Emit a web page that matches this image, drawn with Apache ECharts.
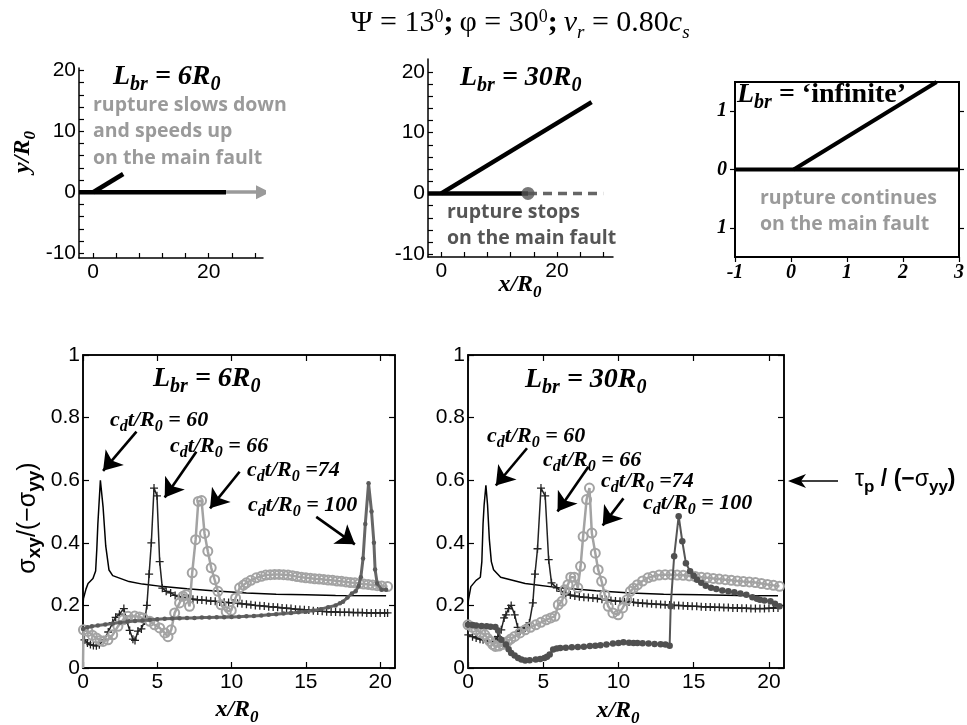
<!DOCTYPE html>
<html><head><meta charset="utf-8">
<script src="https://cdn.jsdelivr.net/npm/echarts@6/dist/echarts.min.js"></script>
<style>html,body{margin:0;padding:0;background:#fff}#c{width:967px;height:725px}</style>
</head><body><div id="c"></div>
<script>
// ---------- tick values ----------
const topXTicks = [0, 4, 8, 12, 16, 20, 24, 28];
const topXLabels = [0, 20];
const topYTicks = [-10, -8, -6, -4, -2, 0, 2, 4, 6, 8, 10, 12, 14, 16, 18, 20];
const topYLabels = [-10, 0, 10, 20];
const infXTicks = [-1, 0, 1, 2, 3];
const infYTicks = [-1, 0, 1];
const botXTicks = [0, 5, 10, 15, 20];
const botYTicks = [0, 0.2, 0.4, 0.6, 0.8, 1];

// ---------- fault geometry (x/R0, y/R0) ----------
const tlMainFault = [[-2.45, 0], [23, 0]];
const tlBranch = [[0, 0], [5.2, 3]];
const tlContinue = [[23, 0], [29.4, 0]];
const tmMainFault = [[-2.3, 0], [15, 0]];
const tmBranch = [[0, 0], [26, 15]];
const tmStopped = [[15, 0], [28, 0]];
const tmStopPoint = [[15, 0]];
const trMainFault = [[-1, 0], [3, 0]];
const trBranch = [[0.05, 0], [2.6, 1.5]];

// ---------- stress ratio, L_br = 6 R0 ----------
const l6_t60 = [[0,0.2],[0.03,0.222],[0.2,0.252],[0.34,0.27],[0.67,0.286],[0.85,0.31],[0.93,0.38],[1.0,0.46],[1.17,0.6],[1.35,0.515],[1.53,0.39],[1.75,0.313],[2.0,0.295],[3.1,0.276],[4,0.268],[5.4,0.26],[7,0.253],[8.7,0.247],[11,0.24],[13,0.236],[15,0.234],[17,0.232],[20.4,0.231]];
const l6_t66 = [[0.1,0.09],[0.3,0.08],[0.5,0.075],[0.7,0.072],[0.9,0.071],[1.1,0.074],[1.4,0.09],[1.7,0.115],[2.0,0.145],[2.2,0.162],[2.45,0.172],[2.75,0.19],[2.92,0.155],[3.14,0.12],[3.36,0.092],[3.5,0.088],[3.7,0.118],[3.93,0.125],[4.15,0.15],[4.3,0.2],[4.45,0.3],[4.6,0.4],[4.78,0.575],[4.98,0.55],[5.16,0.34],[5.34,0.255],[5.6,0.245],[5.9,0.24],[6.2,0.232],[6.5,0.228],[6.8,0.225],[7.1,0.222],[7.4,0.22],[7.7,0.218],[8.0,0.217],[8.3,0.216],[8.6,0.214],[8.9,0.213],[9.2,0.211],[9.5,0.21],[9.8,0.209],[10.1,0.208],[10.4,0.207],[10.7,0.205],[11.0,0.204],[11.3,0.202],[11.6,0.2],[11.9,0.199],[12.2,0.198],[12.5,0.196],[12.8,0.195],[13.1,0.194],[13.4,0.192],[13.7,0.191],[14.0,0.19],[14.3,0.188],[14.6,0.187],[14.9,0.186],[15.2,0.185],[15.5,0.183],[15.8,0.182],[16.1,0.181],[16.4,0.18],[16.7,0.179],[17.0,0.179],[17.3,0.178],[17.6,0.178],[17.9,0.178],[18.2,0.177],[18.5,0.177],[18.8,0.177],[19.1,0.176],[19.4,0.176],[19.7,0.176],[20.0,0.176],[20.3,0.176],[20.5,0.176]];
const l6_t74 = [[0,0],[0.03,0.122],[0.34,0.117],[0.62,0.105],[0.9,0.096],[1.15,0.088],[1.35,0.085],[1.68,0.09],[2.0,0.106],[2.35,0.133],[2.7,0.154],[3.03,0.165],[3.48,0.166],[3.8,0.163],[4.04,0.16],[4.5,0.149],[4.82,0.138],[5.16,0.128],[5.5,0.112],[5.72,0.1],[5.94,0.122],[6.17,0.176],[6.5,0.208],[6.73,0.229],[6.95,0.234],[7.17,0.197],[7.35,0.304],[7.58,0.41],[7.76,0.532],[7.98,0.535],[8.18,0.43],[8.4,0.373],[8.63,0.32],[8.86,0.282],[9.08,0.245],[9.3,0.202],[9.64,0.18],[9.98,0.184],[10.27,0.224],[10.54,0.256],[10.8,0.265],[11,0.272],[11.3,0.28],[11.66,0.288],[12.0,0.293],[12.3,0.297],[12.6,0.298],[12.9,0.299],[13.2,0.299],[13.5,0.298],[13.8,0.297],[14.1,0.295],[14.4,0.292],[14.7,0.29],[15.0,0.288],[15.3,0.287],[15.6,0.285],[15.9,0.284],[16.2,0.283],[16.5,0.281],[16.8,0.28],[17.1,0.278],[17.4,0.277],[17.7,0.275],[18.0,0.273],[18.3,0.272],[18.6,0.27],[18.9,0.268],[19.2,0.267],[19.5,0.265],[19.8,0.263],[20.1,0.262],[20.5,0.26]];
const l6_t100 = [[0,0.125],[0.3,0.13],[0.6,0.133],[1,0.136],[1.5,0.139],[2,0.142],[2.5,0.145],[3,0.148],[3.5,0.15],[4,0.152],[4.5,0.154],[5,0.156],[5.5,0.157],[6,0.158],[6.5,0.159],[7,0.16],[7.5,0.16],[8,0.161],[8.5,0.161],[9,0.162],[9.5,0.162],[10,0.163],[10.5,0.164],[11,0.165],[11.5,0.166],[12,0.168],[12.5,0.17],[13,0.172],[13.5,0.174],[14,0.176],[14.5,0.178],[15,0.18],[15.5,0.184],[16,0.188],[16.5,0.194],[17,0.2],[17.3,0.207],[17.5,0.212],[17.8,0.225],[18.1,0.238],[18.35,0.245],[18.55,0.262],[18.7,0.29],[18.85,0.35],[19.0,0.46],[19.22,0.59],[19.42,0.5],[19.58,0.4],[19.66,0.315],[19.8,0.27],[20.1,0.25],[20.4,0.25]];

// ---------- stress ratio, L_br = 30 R0 ----------
const l30_t60 = [[0,0.2],[0.03,0.218],[0.19,0.26],[0.54,0.28],[0.82,0.29],[0.92,0.34],[1.0,0.46],[1.07,0.52],[1.19,0.584],[1.3,0.52],[1.42,0.41],[1.55,0.34],[1.7,0.314],[2.17,0.29],[3.8,0.27],[6.1,0.256],[8.5,0.247],[10.8,0.24],[13,0.236],[15.45,0.234],[18,0.232],[20.6,0.231]];
const l30_t66 = [[0,0],[0.02,0.106],[0.3,0.1],[0.54,0.096],[0.8,0.092],[1.0,0.09],[1.3,0.087],[1.59,0.085],[1.8,0.09],[1.98,0.1],[2.21,0.122],[2.4,0.16],[2.52,0.17],[2.7,0.19],[2.87,0.2],[3.1,0.17],[3.3,0.13],[3.45,0.117],[3.65,0.122],[3.8,0.128],[4.08,0.144],[4.31,0.208],[4.45,0.3],[4.62,0.381],[4.85,0.575],[5.13,0.55],[5.36,0.346],[5.55,0.272],[5.9,0.256],[6.2,0.245],[6.5,0.238],[6.8,0.233],[7.1,0.23],[7.4,0.228],[7.7,0.226],[8.0,0.225],[8.3,0.224],[8.6,0.222],[8.9,0.22],[9.2,0.218],[9.5,0.216],[9.8,0.214],[10.1,0.213],[10.4,0.212],[10.7,0.211],[11.0,0.21],[11.3,0.208],[11.6,0.207],[11.9,0.206],[12.2,0.205],[12.5,0.204],[12.8,0.203],[13.1,0.202],[13.4,0.201],[13.7,0.2],[14.0,0.2],[14.3,0.199],[14.6,0.198],[14.9,0.197],[15.2,0.197],[15.5,0.196],[15.8,0.195],[16.1,0.195],[16.4,0.194],[16.7,0.194],[17.0,0.193],[17.3,0.193],[17.6,0.192],[17.9,0.192],[18.2,0.191],[18.5,0.191],[18.8,0.19],[19.1,0.19],[19.4,0.19],[19.7,0.19],[20.0,0.191],[20.3,0.192],[20.6,0.192]];
const l30_t74 = [[0,0.138],[0.3,0.13],[0.54,0.122],[0.85,0.113],[1.12,0.106],[1.3,0.095],[1.47,0.085],[1.65,0.075],[1.82,0.069],[2.05,0.07],[2.28,0.075],[2.45,0.08],[2.63,0.085],[2.85,0.093],[3.1,0.101],[3.45,0.112],[3.8,0.122],[4.15,0.13],[4.5,0.138],[4.85,0.146],[5.2,0.154],[5.5,0.16],[5.78,0.165],[6.0,0.202],[6.25,0.213],[6.43,0.25],[6.64,0.266],[6.83,0.29],[7.06,0.29],[7.3,0.256],[7.48,0.325],[7.65,0.42],[7.88,0.538],[8.07,0.575],[8.23,0.431],[8.46,0.367],[8.65,0.314],[8.88,0.277],[9.09,0.234],[9.32,0.197],[9.63,0.176],[9.98,0.17],[10.28,0.192],[10.56,0.218],[10.79,0.245],[11.0,0.255],[11.26,0.266],[11.6,0.278],[11.96,0.288],[12.3,0.293],[12.7,0.297],[13.1,0.298],[13.5,0.298],[13.9,0.297],[14.3,0.296],[14.7,0.294],[15.1,0.292],[15.5,0.29],[15.9,0.288],[16.3,0.286],[16.7,0.284],[17.1,0.282],[17.5,0.28],[17.9,0.278],[18.3,0.276],[18.7,0.275],[19.1,0.273],[19.5,0.27],[19.9,0.267],[20.3,0.264],[20.7,0.261]];
const l30_t100 = [[0,0.138],[0.3,0.137],[0.54,0.136],[0.9,0.134],[1.24,0.133],[1.5,0.132],[1.82,0.131],[2.0,0.12],[2.21,0.09],[2.52,0.075],[2.7,0.06],[2.87,0.048],[3.1,0.04],[3.33,0.032],[3.55,0.027],[3.8,0.024],[4.1,0.025],[4.5,0.027],[4.8,0.029],[5.08,0.032],[5.25,0.036],[5.43,0.043],[5.66,0.059],[5.9,0.062],[6.13,0.064],[6.5,0.065],[6.9,0.066],[7.3,0.067],[7.7,0.068],[8.1,0.07],[8.46,0.071],[8.8,0.073],[9.2,0.075],[9.63,0.078],[10.0,0.08],[10.33,0.082],[10.7,0.081],[11.0,0.08],[11.26,0.08],[11.6,0.079],[12.0,0.078],[12.4,0.077],[12.8,0.076],[13.12,0.075],[13.4,0.071],[13.47,0.197],[13.7,0.357],[14.0,0.485],[14.24,0.405],[14.48,0.335],[14.76,0.309],[15.0,0.295],[15.22,0.282],[15.5,0.272],[15.8,0.263],[16.15,0.256],[16.5,0.252],[16.9,0.248],[17.3,0.245],[17.7,0.242],[18.1,0.238],[18.5,0.234],[18.9,0.226],[19.2,0.221],[19.4,0.218],[19.7,0.216],[20.1,0.213],[20.4,0.205],[20.7,0.197]];

// ---------- annotation arrows (tail -> head, data units) ----------
const l6_arrows = [[[3.6,0.755],[1.35,0.63]], [[7.63,0.691],[5.5,0.545]], [[10.54,0.627],[8.55,0.51]], [[15.7,0.483],[18.3,0.395]]];
const l30_arrows = [[[3.92,0.702],[1.85,0.583]], [[8.0,0.643],[5.95,0.5]], [[10.33,0.542],[8.95,0.455]]];

const serif = "'Liberation Serif','DejaVu Serif',serif";
const sans = "'Liberation Sans','DejaVu Sans',sans-serif";
const myriad = "'Open Sans','Noto Sans',sans-serif";
const plusPath = 'path://M4.2,0H5.8V4.2H10V5.8H5.8V10H4.2V5.8H0V4.2H4.2Z';
const TICK_FONT = 21;

function tk(size, o) {
  return Object.assign({fontFamily: serif, fontSize: size, fontWeight: 'bold', fontStyle: 'italic',
    fill: '#000', color: '#000', verticalAlign: 'bottom'}, o || {});
}
function mainTok(size, pb, o) { return tk(size, Object.assign({padding: [0, 0, pb, 0]}, o || {})); }

const richLbr = {m: mainTok(28, 4), s: tk(20), u: mainTok(28, 4, {fontStyle: 'normal'})};
const richCd = {m: mainTok(22, 3), s: tk(16)};
const richAx = {m: mainTok(24, 4), s: tk(17)};

function txt(x, y, text, rich, align) {
  return {type: 'text', x: x, y: y, z: 100, silent: true,
    style: {text: text, rich: rich, align: align || 'left', verticalAlign: 'middle'}};
}
function plain(x, y, text, color) {
  return {type: 'text', x: x, y: y, z: 100, silent: true,
    style: {text: text, fill: color, fontFamily: myriad, fontWeight: 'bold', fontSize: 19.5,
      lineHeight: 26.5, align: 'left', verticalAlign: 'top'}};
}

const axLine = {show: true, onZero: false, lineStyle: {color: '#000', width: 1.5}};
function xAx(gi, min, max, ticks, labels, o) {
  return Object.assign({type: 'value', gridIndex: gi, min: min, max: max, splitLine: {show: false},
    axisLine: axLine,
    axisTick: {show: true, inside: true, length: 5, customValues: ticks, lineStyle: {color: '#000', width: 1.2}},
    axisLabel: {show: true, customValues: labels, color: '#000', fontFamily: sans, fontSize: TICK_FONT, margin: 4}}, o || {});
}
function yAx(gi, min, max, ticks, labels, o) {
  return Object.assign({type: 'value', gridIndex: gi, min: min, max: max, splitLine: {show: false},
    axisLine: axLine,
    axisTick: {show: true, inside: true, length: 5, customValues: ticks, lineStyle: {color: '#000', width: 1.2}},
    axisLabel: {show: true, customValues: labels, color: '#000', fontFamily: sans, fontSize: TICK_FONT, margin: 3}}, o || {});
}
const infLabel = {show: true, customValues: infXTicks, color: '#000', fontFamily: serif, fontWeight: 'bold',
  fontStyle: 'italic', fontSize: 20, margin: 6};
const outTick = (vals) => ({show: true, inside: false, length: 5, customValues: vals, lineStyle: {color: '#000', width: 1.2}});
const inTick = (vals) => ({show: true, inside: true, length: 6, customValues: vals, lineStyle: {color: '#000', width: 1.2}});

const xAxis = [
  xAx(0, -2.45, 29.4, topXTicks, topXLabels),
  xAx(1, -2.3, 29.7, topXTicks, topXLabels),
  xAx(2, -1, 3, infXTicks, infXTicks, {axisTick: outTick(infXTicks), axisLabel: infLabel}),
  xAx(3, 0, 21, botXTicks, botXTicks, {axisTick: inTick(botXTicks)}),
  xAx(4, 0, 21, botXTicks, botXTicks, {axisTick: inTick(botXTicks)}),
  xAx(3, 0, 21, botXTicks, [], {position: 'top', axisTick: inTick(botXTicks), axisLabel: {show: false}}),
  xAx(4, 0, 21, botXTicks, [], {position: 'top', axisTick: inTick(botXTicks), axisLabel: {show: false}})
];
const yAxis = [
  yAx(0, -10.8, 20.4, topYTicks, topYLabels),
  yAx(1, -10.45, 22.1, topYTicks, topYLabels),
  yAx(2, -1.5, 1.5, infYTicks, infYTicks, {axisTick: outTick(infYTicks),
    axisLabel: Object.assign({}, infLabel, {customValues: infYTicks, margin: 8, formatter: v => String(Math.abs(v))})}),
  yAx(3, 0, 1, botYTicks, botYTicks, {axisTick: inTick(botYTicks)}),
  yAx(4, 0, 1, botYTicks, botYTicks, {axisTick: inTick(botYTicks)}),
  yAx(3, 0, 1, botYTicks, [], {position: 'right', axisTick: inTick(botYTicks), axisLabel: {show: false}}),
  yAx(4, 0, 1, botYTicks, [], {position: 'right', axisTick: inTick(botYTicks), axisLabel: {show: false}}),
  yAx(2, -1.5, 1.5, infYTicks, [], {position: 'right', axisTick: outTick(infYTicks), axisLabel: {show: false}})
];

function fault(xi, data, color, width, o) {
  return Object.assign({type: 'line', xAxisIndex: xi, yAxisIndex: xi, data: data, symbol: 'none', silent: true,
    clip: false, lineStyle: {color: color, width: width, cap: 'butt'}, z: 3}, o || {});
}
// first sample sitting on the x axis is drawn as line only (no marker)
const noFirstMarker = (arr) => arr.map((p, i) => (i === 0 && p[1] === 0) ? {value: p, symbol: 'none'} : p);
function curve(xi, data, o) {
  return Object.assign({type: 'line', xAxisIndex: xi, yAxisIndex: xi, data: noFirstMarker(data), silent: true,
    showAllSymbol: true, clip: true, emphasis: {disabled: true}}, o);
}
function arrows(xi, list) {
  return {type: 'lines', coordinateSystem: 'cartesian2d', xAxisIndex: xi, yAxisIndex: xi, silent: true, z: 10,
    data: list.map(c => ({coords: c})), symbol: ['none', 'arrow'], symbolSize: 18,
    lineStyle: {color: '#000', width: 2.6, opacity: 1, curveness: 0}};
}
const style60 = {symbol: 'none', lineStyle: {color: '#000', width: 1.5}, z: 2};
const style66 = {symbol: plusPath, symbolSize: 8, itemStyle: {color: '#222'}, lineStyle: {color: '#222', width: 1.5}, z: 3};
const style74 = {symbol: 'circle', symbolSize: 9, itemStyle: {color: 'rgba(255,255,255,0)', borderColor: '#a3a3a3', borderWidth: 2},
  lineStyle: {color: '#a3a3a3', width: 2.5}, z: 4};

const series = [
  fault(0, tlMainFault, '#000', 4.5),
  fault(0, tlBranch, '#000', 4.5),
  {type: 'lines', coordinateSystem: 'cartesian2d', xAxisIndex: 0, yAxisIndex: 0, silent: true, z: 4,
    data: [{coords: tlContinue}], symbol: ['none', 'triangle'], symbolSize: 14,
    lineStyle: {color: '#9a9a9a', width: 3.5, opacity: 1, curveness: 0}},
  fault(1, tmMainFault, '#000', 4.5),
  fault(1, tmBranch, '#000', 4.5),
  fault(1, tmStopped, '#666', 3.5, {lineStyle: {color: '#666', width: 3.5, type: [9, 6]}}),
  {type: 'scatter', xAxisIndex: 1, yAxisIndex: 1, data: tmStopPoint, symbolSize: 13, silent: true,
    itemStyle: {color: '#555'}, z: 5},
  fault(2, trMainFault, '#000', 4),
  fault(2, trBranch, '#000', 4),

  curve(3, l6_t60, style60),
  curve(3, l6_t66, style66),
  curve(3, l6_t74, style74),
  curve(3, l6_t100, {symbol: 'circle', symbolSize: 4.5, itemStyle: {color: '#5a5a5a'}, lineStyle: {color: '#666', width: 3}, z: 5}),
  arrows(3, l6_arrows),

  curve(4, l30_t60, style60),
  curve(4, l30_t66, style66),
  curve(4, l30_t74, style74),
  curve(4, l30_t100, {symbol: 'circle', symbolSize: 6.5, itemStyle: {color: '#505050'}, lineStyle: {color: '#555', width: 2}, z: 5}),
  arrows(4, l30_arrows)
];

const richTitle = {
  m: mainTok(30, 4, {fontWeight: 'normal', fontStyle: 'normal'}),
  b: mainTok(30, 4, {fontStyle: 'normal'}),
  i: mainTok(30, 4, {fontWeight: 'normal'}),
  p: tk(18, {fontWeight: 'normal', fontStyle: 'normal', verticalAlign: 'top'}),
  s: tk(19, {fontWeight: 'normal'})
};
const sg = (sz, o) => Object.assign({fontFamily: sans, fontSize: sz, fontWeight: 'normal', fill: '#000', color: '#000', verticalAlign: 'bottom'}, o || {});
const richSigma = {m: sg(25, {padding: [0, 0, 4, 0]}), s: sg(19, {fontWeight: 'bold'})};
const richTau = {m: sg(23, {padding: [0, 0, 4, 0]}), mb: sg(23, {padding: [0, 0, 4, 0], fontWeight: 'bold'}), s: sg(17, {fontWeight: 'bold'})};

const graphic = [
  txt(520, 25, '{m|Ψ = 13}{p|0}{b|;}{m|\u2009φ = 30}{p|0}{b|;}{i|\u2009v}{s|r}{m| = 0.80}{i|c}{s|s}', richTitle, 'center'),
  txt(113, 79, '{m|L}{s|br}{m| = 6R}{s|0}', richLbr),
  txt(460, 80, '{m|L}{s|br}{m| = 30R}{s|0}', richLbr),
  txt(737, 97, '{m|L}{s|br}{u| = ‘infinite’}', richLbr),
  txt(153, 381, '{m|L}{s|br}{m| = 6R}{s|0}', richLbr),
  txt(525, 382, '{m|L}{s|br}{m| = 30R}{s|0}', richLbr),
  plain(93, 92, 'rupture slows down\nand speeds up\non the main fault', '#9a9a9a'),
  plain(447, 199, 'rupture stops\non the main fault', '#555'),
  plain(760, 185, 'rupture continues\non the main fault', '#9a9a9a'),
  txt(110, 422, '{m|c}{s|d}{m|t/R}{s|0}{m| = 60}', richCd),
  txt(170, 448, '{m|c}{s|d}{m|t/R}{s|0}{m| = 66}', richCd),
  txt(247, 472, '{m|c}{s|d}{m|t/R}{s|0}{m| =74}', richCd),
  txt(248, 507, '{m|c}{s|d}{m|t/R}{s|0}{m| = 100}', richCd),
  txt(487, 438, '{m|c}{s|d}{m|t/R}{s|0}{m| = 60}', richCd),
  txt(543, 462, '{m|c}{s|d}{m|t/R}{s|0}{m| = 66}', richCd),
  txt(601, 483, '{m|c}{s|d}{m|t/R}{s|0}{m| =74}', richCd),
  txt(643, 505, '{m|c}{s|d}{m|t/R}{s|0}{m| = 100}', richCd),
  {type: 'text', x: 25, y: 152, rotation: Math.PI / 2, z: 100, silent: true,
    style: {text: '{m|y/R}{s|0}', rich: richAx, align: 'center', verticalAlign: 'middle'}},
  txt(520, 287, '{m|x/R}{s|0}', richAx, 'center'),
  txt(237, 712, '{m|x/R}{s|0}', richAx, 'center'),
  txt(618, 713, '{m|x/R}{s|0}', richAx, 'center'),
  {type: 'text', x: 30, y: 518, rotation: Math.PI / 2, z: 100, silent: true,
    style: {text: '{m|σ}{s|xy}{m|/(−σ}{s|yy}{m|)}', rich: richSigma, align: 'center', verticalAlign: 'middle'}},
  {type: 'text', x: 855, y: 482, z: 100, silent: true,
    style: {text: '{m|τ}{s|p}{mb| / (−}{m|σ}{s|yy}{mb|)}', rich: richTau, align: 'left', verticalAlign: 'middle'}},
  {type: 'line', z: 100, silent: true, shape: {x1: 838, y1: 481, x2: 800, y2: 481}, style: {stroke: '#000', lineWidth: 1.5}},
  {type: 'polygon', z: 100, silent: true, shape: {points: [[788, 481], [806, 474], [801, 481], [806, 488]]}, style: {fill: '#000'}}
];

const chart = echarts.init(document.getElementById('c'));
chart.setOption({
  animation: false,
  backgroundColor: '#fff',
  grid: [
    {left: 79, top: 68, width: 184, height: 190},
    {left: 428, top: 59, width: 185, height: 198},
    {left: 735, top: 82, width: 229, height: 175, show: true, borderColor: '#000', borderWidth: 2},
    {left: 83, top: 355, width: 312, height: 313, show: true, borderColor: '#000', borderWidth: 1.5},
    {left: 468, top: 355, width: 316, height: 313, show: true, borderColor: '#000', borderWidth: 1.5}
  ],
  xAxis: xAxis,
  yAxis: yAxis,
  series: series,
  graphic: graphic
});
</script></body></html>
